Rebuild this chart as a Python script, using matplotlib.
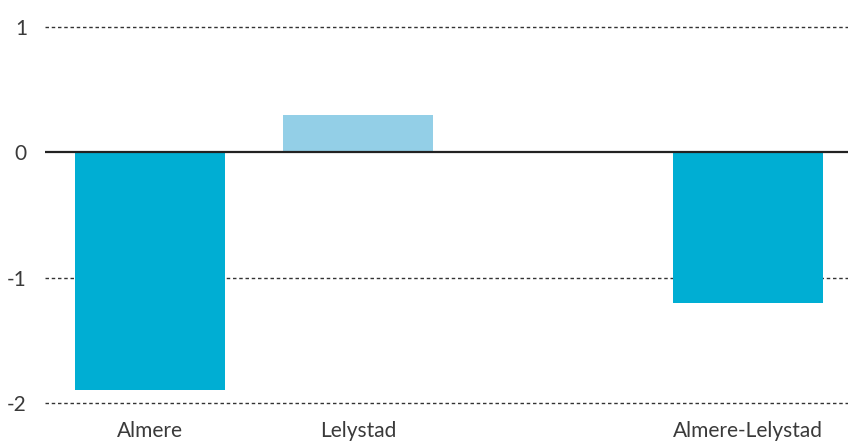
import matplotlib
matplotlib.use("Agg")
import matplotlib.pyplot as plt

categories = ["Almere", "Lelystad", "Almere-Lelystad"]
values = [-1.9, 0.3, -1.2]
positions = [0, 1, 2.875]
colors = ["#00AED3", "#93CFE7", "#00AED3"]
yticks = [-2, -1, 0, 1]
ytick_labels = ["-2", "-1", "0", "1"]

plt.rcParams['font.family'] = ['Lato', 'DejaVu Sans']

fig = plt.figure(figsize=(8.48, 4.42), dpi=100)
ax = fig.add_axes([45/848, 39/442, 803/848, 376/442])

for y in yticks:
    if y == 0:
        continue
    ax.axhline(y, color="#333333", lw=1.0, ls=(0, (2.5, 2.0)), zorder=1, clip_on=False)

ax.bar(positions, values, width=0.721, color=colors, zorder=2)
ax.axhline(0, color="#222222", lw=1.6, zorder=3)

ax.set_ylim(-2, 1)
ax.set_xlim(-0.505, 3.356)
ax.set_yticks(yticks)
ax.set_yticklabels(ytick_labels)
ax.set_xticks(positions)
ax.set_xticklabels(categories)
for s in ax.spines.values():
    s.set_visible(False)
ax.tick_params(axis="both", length=0, labelsize=15, colors="#3a3a3a")
ax.tick_params(axis="y", pad=13)
ax.tick_params(axis="x", pad=13)
for t in ax.get_xticklabels() + ax.get_yticklabels():
    t.set_fontweight("normal")

fig.savefig("out.png", dpi=100)
